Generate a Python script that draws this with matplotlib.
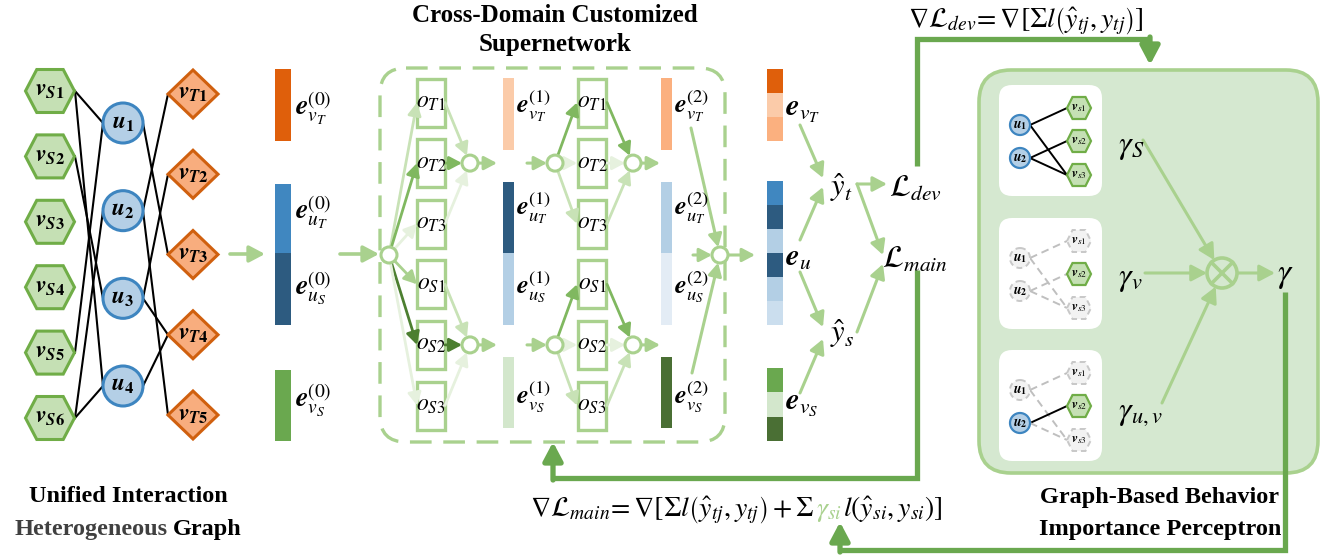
import numpy as np
import matplotlib.pyplot as plt
from matplotlib.patches import Polygon, Circle, Rectangle, FancyBboxPatch, FancyArrowPatch

plt.rcParams['mathtext.fontset'] = 'stix'
plt.rcParams['font.family'] = ['Liberation Serif', 'DejaVu Sans']

# ---- graph content ----
src_items = ['S1', 'S2', 'S3', 'S4', 'S5', 'S6']
users = ['1', '2', '3', '4']
tgt_items = ['T1', 'T2', 'T3', 'T4', 'T5']
src_user_edges = [(0, 0), (0, 3), (1, 2), (4, 0), (5, 1), (5, 3)]
user_tgt_edges = [(0, 2), (1, 0), (1, 4), (2, 1), (2, 3), (3, 3)]

ops = ['T1', 'T2', 'T3', 'S1', 'S2', 'S3']
# edge strength inside the supernetwork (0 faint .. 4 dark)
layer1_in = [1, 3, 0, 2, 4, 0]
layer1_out = [1, 3, 0, 1, 4, 0]
layer2_in = [3, 0, 1, 3, 0, 1]
layer2_out = [3, 0, 1, 3, 0, 1]

# embedding colours per layer: vT, uT, uS, vS
emb_layer0 = ['#df5f0b', '#4087c0', '#2d5b80', '#6aa84f']
emb_layer1 = ['#fbcba9', '#2d5b80', '#b3cfe5', '#d3e7cc']
emb_layer2 = ['#fbb07f', '#b3cfe5', '#e3ecf5', '#4a6f34']
emb_final_vT = ['#df5f0b', '#fbcba9', '#fbb07f']
emb_final_u = ['#4087c0', '#2d5b80', '#b3cfe5', '#2d5b80', '#b3cfe5', '#cbdeee']
emb_final_vS = ['#6aa84f', '#d3e7cc', '#4a6f34']

# behaviour importance sub-graphs
small_edges = [(0, 0), (0, 2), (1, 1), (1, 2)]
act_users = [[1, 1], [0, 0], [0, 1]]
act_items = [[1, 1, 1], [0, 1, 0], [0, 1, 0]]
act_edges = [[1, 1, 1, 1], [0, 0, 0, 0], [0, 0, 1, 0]]
gamma_labels = [r'$\gamma_S$', r'$\gamma_v$', r'$\gamma_{u,v}$']

LG = '#a9d18e'
MG = '#6aa84f'
strength_col = ['#e6f1de', '#c8e2b6', '#a9d18e', '#80b860', '#4c7f30']

fig = plt.figure(figsize=(13.27, 5.55), dpi=100)
ax = fig.add_axes([0, 0, 1, 1])
ax.set_xlim(0, 1327)
ax.set_ylim(555, 0)
ax.axis('off')


def hexagon(cx, cy, w, h, fc, ec, lw, ls='-', z=3):
    pts = [(cx - w/2, cy), (cx - w*0.27, cy - h/2), (cx + w*0.27, cy - h/2),
           (cx + w/2, cy), (cx + w*0.27, cy + h/2), (cx - w*0.27, cy + h/2)]
    ax.add_patch(Polygon(pts, closed=True, fc=fc, ec=ec, lw=lw, ls=ls, zorder=z))


def diamond(cx, cy, w, h, fc, ec, lw, z=3):
    pts = [(cx - w/2, cy), (cx, cy - h/2), (cx + w/2, cy), (cx, cy + h/2)]
    ax.add_patch(Polygon(pts, closed=True, fc=fc, ec=ec, lw=lw, zorder=z, joinstyle='miter'))


def arrow(p0, p1, color=LG, lw=2.2, scale=10, z=4):
    ax.add_patch(FancyArrowPatch(p0, p1, arrowstyle='-|>,head_length=0.85,head_width=0.45',
                                 mutation_scale=scale, color=color, lw=lw,
                                 shrinkA=0, shrinkB=0, zorder=z))


def trim(p, q, r):
    # point at distance r from q, toward p
    d = np.array(p, float) - np.array(q, float)
    return tuple(np.array(q) + d / np.hypot(*d) * r)


def txt(x, y, s, size, ha='left', va='center', color='black', z=6, **kw):
    return ax.text(x, y, s, fontsize=size, ha=ha, va=va, color=color, zorder=z, **kw)


# ================= unified interaction graph =================
vs_x, u_x, vt_x = 50, 123, 193
vs_y = np.linspace(91, 418, len(src_items))
u_y = np.linspace(123, 386, len(users))
vt_y = np.linspace(94, 415, len(tgt_items))

for i, j in src_user_edges:
    ax.plot([vs_x + 25, u_x - 20], [vs_y[i], u_y[j]], color='black', lw=1.5, zorder=2)
for i, j in user_tgt_edges:
    ax.plot([u_x + 20, vt_x - 25], [u_y[i], vt_y[j]], color='black', lw=1.5, zorder=2)

for k, s in enumerate(src_items):
    hexagon(vs_x, vs_y[k], 49, 43, '#c5e0b4', '#70ad47', 2.2)
    txt(vs_x, vs_y[k], r'$\mathbfit{v}_{\mathbfit{%s}\mathbf{%s}}$' % (s[0], s[1]), 17, ha='center')
for k, s in enumerate(users):
    ax.add_patch(Circle((u_x, u_y[k]), 20, fc='#b4cfe6', ec='#3d85c0', lw=2.2, zorder=3))
    txt(u_x, u_y[k], r'$\mathbfit{u}_{\mathbf{%s}}$' % s, 17, ha='center')
for k, s in enumerate(tgt_items):
    diamond(vt_x, vt_y[k], 50, 48, '#f8ad7e', '#d0600f', 2.2)
    txt(vt_x, vt_y[k], r'$\mathbfit{v}_{\mathbfit{%s}\mathbf{%s}}$' % (s[0], s[1]), 17, ha='center')

arrow((230, 254), (265, 254), lw=2.6, scale=11)

# ================= layer-0 embeddings =================
bar_rows0 = [(69, 141), (184, 253), (253, 325), (370, 441)]
for (y0, y1), c in zip(bar_rows0, emb_layer0):
    ax.add_patch(Rectangle((275, y0), 16, y1 - y0, fc=c, ec='none', zorder=3))
lab_y0 = [108, 212, 288, 400]
subs = ['v_T', 'u_T', 'u_S', 'v_S']
for y, s in zip(lab_y0, subs):
    txt(295, y, r'$\mathbfit{e}_{%s}^{(0)}$' % s, 20)

arrow((340, 254), (379, 254), lw=2.6, scale=11)

# ================= supernetwork =================
txt(555, 16, 'Cross-Domain Customized', 18, ha='center', fontweight='bold')
txt(555, 45, 'Supernetwork', 18, ha='center', fontweight='bold')
ax.add_patch(FancyBboxPatch((380, 68), 345, 374, boxstyle='round,pad=0,rounding_size=26',
                            fill=False, ec=LG, lw=2.4, ls=(0, (6.5, 3.5)), zorder=2))

op_y = np.linspace(102.5, 405.5, len(ops))
merge_y = [op_y[1], op_y[4]]
col_x = [431, 592]
in_c = (389, 255)
ax.add_patch(Circle(in_c, 8, fc='white', ec=LG, lw=2.2, zorder=5))

for cx in col_x:
    for k, o in enumerate(ops):
        ax.add_patch(Rectangle((cx - 14, op_y[k] - 24), 28, 48, fill=False, ec=LG, lw=2.4, zorder=3))
        txt(cx, op_y[k], r'$o_{%s}$' % o, 17, ha='center')

# layer 1
for k in range(6):
    tgt = (417, op_y[k])
    arrow(trim(tgt, in_c, 8), tgt, color=strength_col[layer1_in[k]], lw=2.0, scale=9)
    m = (470, merge_y[k // 3])
    arrow((445, op_y[k]), trim((445, op_y[k]), m, 8), color=strength_col[layer1_out[k]], lw=2.0, scale=9)
for my in merge_y:
    ax.add_patch(Circle((470, my), 8, fc='white', ec=LG, lw=2.2, zorder=5))
    arrow((478, my), (497, my), scale=9)
    arrow((527, my), (547, my), scale=9)
    ax.add_patch(Circle((555, my), 8, fc='white', ec=LG, lw=2.2, zorder=5))
    ax.add_patch(Circle((633, my), 8, fc='white', ec=LG, lw=2.2, zorder=5))
    arrow((641, my), (660, my), scale=9)
# layer 2
for k in range(6):
    c2 = (555, merge_y[k // 3])
    tgt = (577, op_y[k])
    arrow(trim(tgt, c2, 8), tgt, color=strength_col[layer2_in[k]], lw=2.0, scale=9)
    m = (633, merge_y[k // 3])
    arrow((607, op_y[k]), trim((607, op_y[k]), m, 8), color=strength_col[layer2_out[k]], lw=2.0, scale=9)

bar_rows = [(78, 150), (182, 253), (253, 325), (357, 428)]
lab_y = [106, 208, 287, 397]
for bx, cols, lay in [(503, emb_layer1, 1), (661, emb_layer2, 2)]:
    for (y0, y1), c in zip(bar_rows, cols):
        ax.add_patch(Rectangle((bx, y0), 11, y1 - y0, fc=c, ec='none', zorder=3))
    for y, s in zip(lab_y, subs):
        txt(bx + 13, y, r'$\mathbfit{e}_{%s}^{(%d)}$' % (s, lay), 19)

out_c = (720, 255)
ax.add_patch(Circle(out_c, 8, fc='white', ec=LG, lw=2.2, zorder=5))
arrow((691, 128), trim((691, 128), out_c, 8), scale=9)
arrow((692, 373), trim((692, 373), out_c, 8), scale=9)
arrow((693, 255), (712, 255), scale=9)
arrow((729, 255), (755, 255), scale=9)

# ================= final embeddings & predictions =================
for segs, y0, y1 in [(emb_final_vT, 69, 141), (emb_final_u, 181, 325), (emb_final_vS, 368, 441)]:
    hgt = (y1 - y0) / len(segs)
    for k, c in enumerate(segs):
        ax.add_patch(Rectangle((767, y0 + k * hgt), 16, hgt, fc=c, ec='none', zorder=3))
txt(785, 110, r'$\mathbfit{e}_{v_T}$', 22)
txt(785, 258, r'$\mathbfit{e}_{u}$', 22)
txt(785, 403, r'$\mathbfit{e}_{v_S}$', 22)

txt(842, 188, r'$\hat{y}_t$', 22, ha='center')
txt(842, 334, r'$\hat{y}_s$', 22, ha='center')
txt(889, 188, r'$\mathcal{L}_{dev}$', 22)
txt(882, 260, r'$\mathcal{L}_{main}$', 22)

arrow((800, 125), (823, 178), scale=10)
arrow((800, 240), (823, 187), scale=10)
arrow((800, 272), (823, 327), scale=10)
arrow((800, 393), (823, 339), scale=10)
arrow((857, 184), (887, 184), scale=10)
arrow((857, 184), (883, 255), scale=10)
arrow((857, 332), (883, 264), scale=10)

# ================= behaviour importance perceptron =================
ax.add_patch(FancyBboxPatch((979, 70), 339, 403, boxstyle='round,pad=0,rounding_size=32',
                            fc='#d5e8d0', ec=LG, lw=2.6, zorder=1))
box_tops = [85, 218, 350]
sux, svx = 1020, 1079
for b, top in enumerate(box_tops):
    ax.add_patch(FancyBboxPatch((999, top), 103, 111, boxstyle='round,pad=0,rounding_size=13',
                                fc='white', ec='none', zorder=2))
    uy = [top + 40, top + 73]
    vy = [top + 23, top + 56, top + 90]
    for e, (i, j) in enumerate(small_edges):
        if act_edges[b][e]:
            ax.plot([sux + 10, svx - 12], [uy[i], vy[j]], color='black', lw=1.4, zorder=3)
        else:
            ax.plot([sux + 10, svx - 12], [uy[i], vy[j]], color='#bfbfbf', lw=1.4,
                    ls=(0, (4, 2.5)), zorder=3)
    for i in range(2):
        if act_users[b][i]:
            ax.add_patch(Circle((sux, uy[i]), 10, fc='#b4cfe6', ec='#3d85c0', lw=1.6, zorder=4))
        else:
            ax.add_patch(Circle((sux, uy[i]), 10, fc='#f2f2f2', ec='#c8c8c8', lw=1.4,
                                ls=(0, (3, 2)), zorder=4))
        txt(sux, uy[i], r'$\mathbfit{u}_{\mathbf{%d}}$' % (i + 1), 10, ha='center')
    for j in range(3):
        if act_items[b][j]:
            hexagon(svx, vy[j], 24, 22, '#c5e0b4', '#70ad47', 1.6, z=4)
        else:
            hexagon(svx, vy[j], 24, 22, '#f2f2f2', '#c8c8c8', 1.4, ls=(0, (3, 2)), z=4)
        txt(svx, vy[j], r'$\mathbfit{v}_{s%d}$' % (j + 1), 9.5, ha='center')

gam_y = [147, 279, 413]
for y, g in zip(gam_y, gamma_labels):
    txt(1118, y, g, 23)
otimes = (1222, 273)
ax.add_patch(Circle(otimes, 15, fc='none', ec=LG, lw=2.6, zorder=5))
d = 15 / np.sqrt(2)
ax.plot([otimes[0] - d, otimes[0] + d], [otimes[1] - d, otimes[1] + d], color=LG, lw=2.6, zorder=5)
ax.plot([otimes[0] - d, otimes[0] + d], [otimes[1] + d, otimes[1] - d], color=LG, lw=2.6, zorder=5)
arrow((1143, 140), trim((1143, 140), otimes, 15), scale=11)
arrow((1145, 273), (1207, 273), scale=11)
arrow((1162, 403), trim((1162, 403), otimes, 15), scale=11)
arrow((1238, 273), (1275, 273), scale=11)
txt(1285, 276, r'$\gamma$', 24, ha='center')

# ================= feedback paths =================
fb = dict(color=MG, lw=3.8, zorder=6, solid_joinstyle='miter', solid_capstyle='butt')
ax.plot([917, 917, 1150], [166, 39, 39], **fb)
arrow((1150, 37), (1150, 65), color=MG, lw=3.8, scale=13, z=6)
ax.plot([917, 917, 553], [270, 478, 478], **fb)
arrow((553, 480), (553, 442), color=MG, lw=3.8, scale=13, z=6)
ax.plot([1285, 1285, 840], [292, 550, 550], **fb)
arrow((840, 552), (840, 522), color=MG, lw=3.8, scale=13, z=6)

# gradient formulas
fig.canvas.draw()
r = fig.canvas.get_renderer()
inv = ax.transData.inverted()


def chain(x, y, parts, size):
    for s, c in parts:
        t = txt(x, y, s, size, va='baseline', color=c)
        bb = t.get_window_extent(r)
        x = inv.transform((bb.x1, 0))[0] + 1


chain(908, 27, [(r'$\nabla\mathcal{L}_{dev}\!=\nabla[\Sigma l\left(\hat{y}_{tj},y_{tj}\right)]$', 'black')], 20)
chain(530, 516, [(r'$\nabla\mathcal{L}_{main}\!=\nabla[\Sigma l\left(\hat{y}_{tj},y_{tj}\right)+\Sigma$', 'black'),
                 (r'$\gamma_{si}$', LG),
                 (r'$l(\hat{y}_{si},y_{si})]$', 'black')], 20)

# section titles
txt(128, 497, 'Unified Interaction', 17.5, ha='center', fontweight='bold')
t1 = txt(0, 529, 'Heterogeneous', 17.5, fontweight='bold', color='#404040')
t2 = txt(0, 529, 'Graph', 17.5, fontweight='bold')
w1 = t1.get_window_extent(r).width
w2 = t2.get_window_extent(r).width
gap = 5
x0 = 128 - (w1 + w2 + gap) / 2
t1.set_x(x0)
t2.set_x(x0 + w1 + gap)
txt(1160, 497, 'Graph-Based Behavior', 17.5, ha='center', fontweight='bold')
txt(1160, 529, 'Importance Perceptron', 17.5, ha='center', fontweight='bold')

fig.savefig('out.png', dpi=100)
